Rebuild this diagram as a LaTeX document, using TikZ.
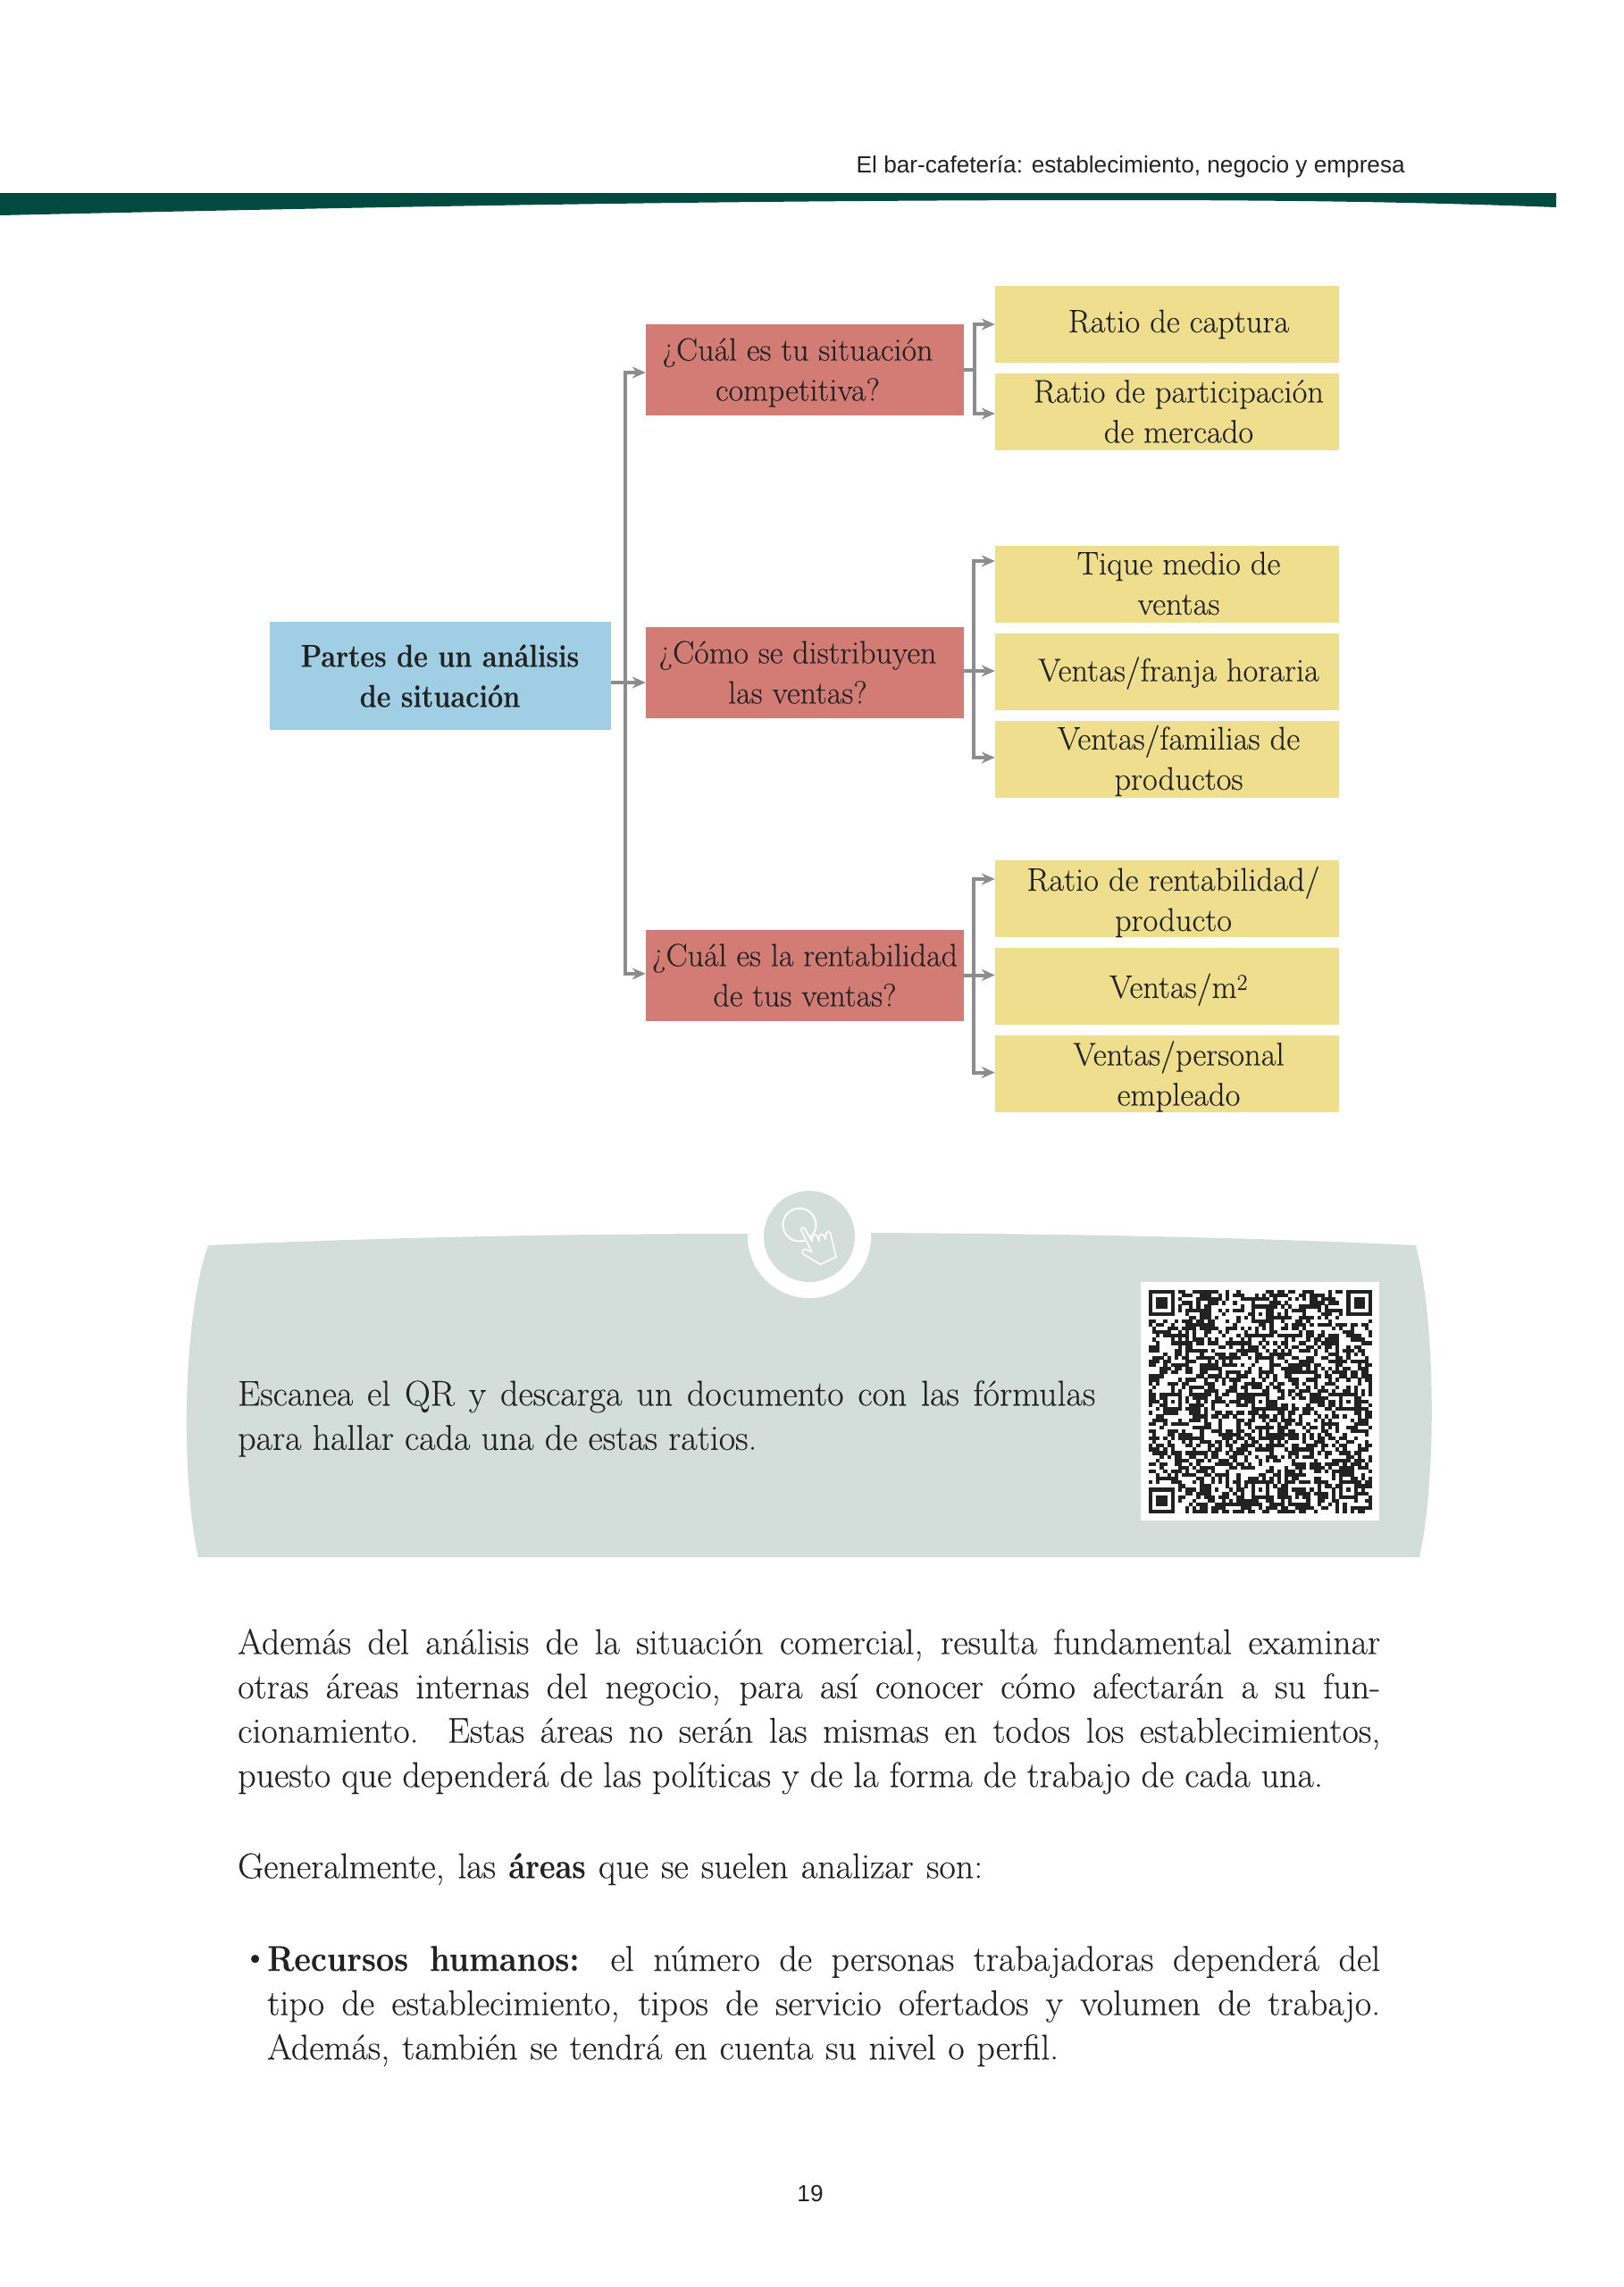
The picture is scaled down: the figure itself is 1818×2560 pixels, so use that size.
\documentclass[tikz,border=0pt]{standalone}
\usepackage{fontspec}
\usetikzlibrary{arrows.meta}
\newfontfamily\headerfont{Liberation Sans}
\newfontfamily\textface[FakeBold=0.15]{Latin Modern Roman}
\definecolor{bandgreen}{HTML}{004A40}
\definecolor{panelgreen}{HTML}{D3DEDB}
\definecolor{rootblue}{HTML}{A0CEE5}
\definecolor{askred}{HTML}{D37C75}
\definecolor{ratioyellow}{HTML}{F0DE8F}
\definecolor{linkgray}{HTML}{8C8C8C}
\definecolor{inkdark}{HTML}{222222}
\newcommand{\narrowbold}[2][0.86]{{\bfseries\addfontfeature{FakeStretch=#1}#2}}
\newcommand{\boxtext}[3]{\hspace*{#1}\raisebox{#2}[\dimexpr\height-4pt][\dimexpr\depth-4pt]{\begin{tabular}{@{}c@{}}#3\end{tabular}}}
\tikzstyle{rootbox} = [fill=rootblue, minimum width=382pt, minimum height=121pt, inner sep=0pt, align=center, text=inkdark, font=\textface\fontsize{35.5}{45}\selectfont]
\tikzstyle{askbox} = [fill=askred, minimum width=356pt, minimum height=102pt, inner sep=0pt, align=center, text=inkdark, font=\textface\fontsize{36}{45}\selectfont]
\tikzstyle{ratiobox} = [fill=ratioyellow, minimum width=385pt, minimum height=86pt, inner sep=0pt, align=center, text=inkdark, font=\textface\fontsize{36.5}{45}\selectfont]
\tikzstyle{arrow} = [linkgray, line width=4pt, -{Stealth[length=15pt,width=13pt]}]
\tikzstyle{bodytext} = [anchor=north west, inner sep=0pt, align=justify, text=inkdark, font=\textface\fontsize{40}{49.6}\selectfont]
\tikzstyle{pagetext} = [inner sep=0pt, text=inkdark, font=\headerfont\fontsize{26.2}{30}\selectfont]
\newcommand{\qrfinder}[2]{
    \fill[inkdark] (#1,#2) rectangle ++(7,7);
    \fill[white] (#1+1,#2+1) rectangle ++(5,5);
    \fill[inkdark] (#1+2,#2+2) rectangle ++(3,3);
}
\newcommand{\qralign}[2]{
    \fill[inkdark] (#1-2,#2-2) rectangle ++(5,5);
    \fill[white] (#1-1,#2-1) rectangle ++(3,3);
    \fill[inkdark] (#1,#2) rectangle ++(1,1);
}
\begin{document}
\begin{tikzpicture}[x=1pt, y=-1pt, node distance=98pt]
    \useasboundingbox (0,0) rectangle (1818,2560);

    % running head
    \fill[bandgreen] (0,216) -- (1742,216) -- (1742,232) .. controls (1560,225) and (1400,224) .. (1240,224) .. controls (800,224) and (400,232) .. (0,241) -- cycle;
    \node (running) [pagetext, anchor=base east] at (1573,193) {El bar-cafetería: establecimiento, negocio y empresa};

    % chart
    \node (partes) [rootbox] at (492.5,756.5) {\narrowbold{Partes de un análisis}\\\narrowbold{de situación}};
    \node (competitiva) [askbox, right of=partes, xshift=310.5pt, yshift=342.5pt] {\boxtext{-16pt}{-3pt}{¿Cuál es tu situación\\competitiva?}};
    \node (distribuyen) [askbox, right of=partes, xshift=310.5pt, yshift=3.5pt] {\boxtext{-16pt}{-3pt}{¿Cómo se distribuyen\\las ventas?}};
    \node (rentabilidad) [askbox, right of=partes, xshift=310.5pt, yshift=-335pt] {¿Cuál es la rentabilidad\\de tus ventas?};

    \node (captura) [ratiobox, right of=competitiva, xshift=307.5pt, yshift=51pt] {\boxtext{26pt}{0pt}{Ratio de captura}};
    \node (mercado) [ratiobox, below of=captura] {\boxtext{26pt}{-3pt}{Ratio de participación\\de mercado}};
    \node (tique) [ratiobox, right of=distribuyen, xshift=307.5pt, yshift=99.5pt] {\boxtext{26pt}{-3pt}{Tique medio de\\ventas}};
    \node (franja) [ratiobox, below of=tique] {\boxtext{26pt}{-2pt}{Ventas/franja horaria}};
    \node (familias) [ratiobox, below of=franja] {\boxtext{26pt}{-3pt}{Ventas/familias de\\productos}};
    \node (producto) [ratiobox, right of=rentabilidad, xshift=307.5pt, yshift=85.5pt] {\boxtext{14pt}{-4.5pt}{Ratio de rentabilidad/\\producto}};
    \node (metro) [ratiobox, below of=producto] {\boxtext{26pt}{-4pt}{Ventas/m\textsuperscript{2}}};
    \node (personal) [ratiobox, below of=metro] {\boxtext{26pt}{-4pt}{Ventas/personal\\empleado}};

    \coordinate (trunk) at (700,764);
    \draw[arrow] ([yshift=-7.5pt]partes.east) -- ([yshift=-11pt]distribuyen.west);
    \draw[arrow] (trunk) |- ([yshift=-3pt]competitiva.west);
    \draw[arrow] (trunk) |- ([yshift=1.5pt]rentabilidad.west);

    \draw[arrow] (competitiva.east) -- ++(12,0) |- (captura.west);
    \draw[arrow] (competitiva.east) -- ++(12,0) |- ([yshift=-2pt]mercado.west);
    \draw[arrow] ([yshift=2pt]distribuyen.east) -- ([yshift=2pt]distribuyen.east -| franja.west);
    \draw[arrow] ([yshift=2pt]distribuyen.east) -- ++(11,0) |- ([yshift=25.5pt]tique.west);
    \draw[arrow] ([yshift=2pt]distribuyen.east) -- ++(11,0) |- ([yshift=1.5pt]familias.west);
    \draw[arrow] (rentabilidad.east) -- (rentabilidad.east -| metro.west);
    \draw[arrow] (rentabilidad.east) -- ++(11,0) |- ([yshift=22pt]producto.west);
    \draw[arrow] (rentabilidad.east) -- ++(11,0) |- ([yshift=1.5pt]personal.west);

    % panel with the notch and the hand
    \fill[panelgreen] (233,1394) .. controls (430,1385) and (640,1381) .. (837,1381) -- (975,1380) .. controls (1190,1381) and (1400,1385) .. (1585,1394) .. controls (1608,1480) and (1608,1660) .. (1589,1743) -- (222,1743) .. controls (203,1660) and (203,1480) .. (233,1394) -- cycle;
    \fill[white] (906,1384) circle[radius=69pt];
    \fill[panelgreen] (906,1384) circle[radius=51pt];
    \begin{scope}[shift={(780,1310)}, x=0.3333pt, y=-0.3333pt]
        \draw[white, line width=2pt] (345,183) circle[radius=18.5pt];
        \draw[white, line width=1.6pt, line join=round, fill=panelgreen] (349,197) .. controls (352,190) and (360,190) .. (364,198) -- (387,238) -- (389,222) .. controls (392,214) and (400,214) .. (404,222) -- (411,238) -- (412,219) .. controls (415,212) and (423,212) .. (427,219) -- (433,232) -- (434,211) .. controls (438,204) and (445,204) .. (449,212) -- (468,291) -- (415,316) -- (357,281) .. controls (350,275) and (358,262) .. (366,265) -- (386,274) -- cycle;
    \end{scope}

    \node (escanea) [bodytext, text width=960pt] at (266,1545) {Escanea el QR y descarga un documento con las fórmulas\linebreak para hallar cada una de estas ratios.};

    % qr code
    \fill[white] (1277,1435) rectangle (1544,1702);
    \begin{scope}[shift={(1286,1444)}, x=4.1pt, y=-4.1pt]
        \pgfmathsetseed{19}
        \foreach \row in {0,...,60} {
            \foreach \col in {0,...,60} {
                \pgfmathrandominteger{\qrbit}{0}{1}
                \ifnum\qrbit=1
                    \fill[inkdark] (\col,\row) rectangle ++(1.03,1.03);
                \fi
            }
        }
        \fill[white] (0,0) rectangle (8,8);
        \fill[white] (53,0) rectangle (61,8);
        \fill[white] (0,53) rectangle (8,61);
        \qrfinder{0}{0}
        \qrfinder{54}{0}
        \qrfinder{0}{54}
        \qralign{6}{30}
        \qralign{30}{6}
        \qralign{30}{30}
        \qralign{30}{54}
        \qralign{54}{30}
        \qralign{54}{54}
    \end{scope}

    % page text
    \node (situacion) [bodytext, text width=1279pt] at (266,1823) {Además del análisis de la situación comercial, resulta fundamental examinar\linebreak otras áreas internas del negocio, para así conocer cómo afectarán a su fun-\linebreak cionamiento. Estas áreas no serán las mismas en todos los establecimientos,\linebreak puesto que dependerá de las políticas y de la forma de trabajo de cada una.};
    \node (areas) [bodytext, text width=1279pt] at (266,2074) {\makebox[834pt][s]{Generalmente, las \narrowbold{áreas} que se suelen analizar son:}};
    \node (bullet) [bodytext] at (271,2188) {•};
    \node (recursos) [bodytext, text width=1246pt] at (299,2178) {\narrowbold[0.9]{Recursos humanos:} el número de personas trabajadoras dependerá del\linebreak tipo de establecimiento, tipos de servicio ofertados y volumen de trabajo.\linebreak \makebox[886pt][s]{Además, también se tendrá en cuenta su nivel o perfil.}};
    \node (folio) [pagetext, anchor=base] at (907,2464) {19};
\end{tikzpicture}
\end{document}
